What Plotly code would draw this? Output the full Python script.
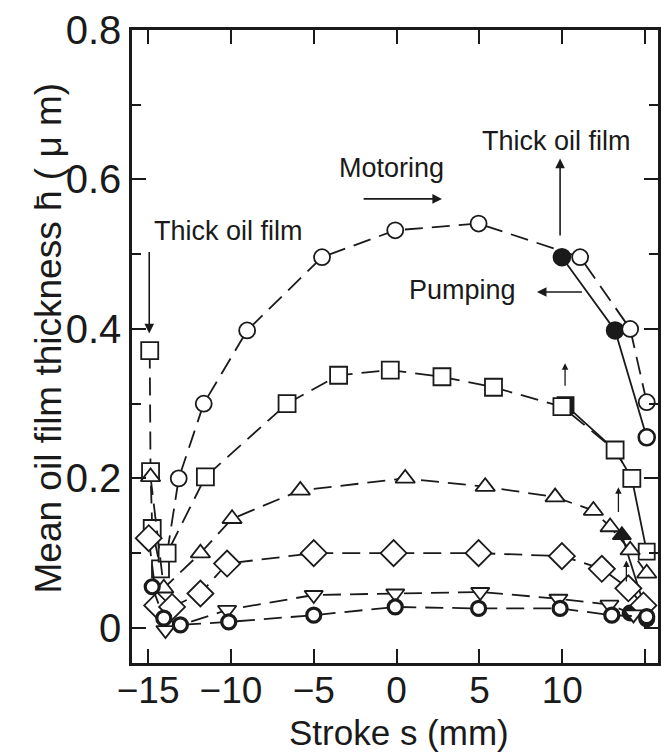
import plotly.graph_objects as go

# ---------------- data ----------------
# Motoring (dashed lines, open markers)
s_circle = [-13.85, -13.15, -11.64, -9.02, -4.5, -0.08, 4.95, 11.08, 14.1, 15.1]
h_circle = [0.10, 0.200, 0.300, 0.398, 0.496, 0.532, 0.541, 0.496, 0.400, 0.302]

s_square = [-14.9, -14.85, -14.75, -14.25, -13.85, -11.54, -6.61, -3.5, -0.38, 2.74, 5.85, 9.98, 13.19, 14.2]
h_square = [0.371, 0.209, 0.133, 0.079, 0.100, 0.202, 0.300, 0.338, 0.345, 0.336, 0.322, 0.296, 0.238, 0.200]

s_tri = [-14.85, -14.05, -11.84, -9.93, -5.81, 0.52, 5.35, 9.57, 11.88, 12.89, 14.1, 15.1]
h_tri = [0.202, 0.053, 0.100, 0.146, 0.184, 0.200, 0.189, 0.175, 0.157, 0.135, 0.104, 0.073]

s_dia = [-14.96, -14.45, -13.55, -11.84, -10.23, -5.0, -0.18, 4.95, 9.98, 12.39, 13.99, 14.9]
h_dia = [0.120, 0.030, 0.028, 0.046, 0.086, 0.100, 0.100, 0.100, 0.096, 0.079, 0.053, 0.030]

s_itri = [-13.95, -10.23, -5.0, -0.08, 5.05, 9.77, 12.85, 14.3]
h_itri = [-0.003, 0.024, 0.044, 0.046, 0.048, 0.039, 0.031, 0.018]

s_bcirc = [-14.75, -14.05, -13.05, -10.13, -5.0, -0.08, 4.95, 9.87, 12.99, 15.1]
h_bcirc = [0.055, 0.013, 0.004, 0.008, 0.017, 0.028, 0.026, 0.026, 0.017, 0.015]

# Pumping (solid lines, filled markers)
s_pcircle = [9.98, 13.19, 15.1]
h_pcircle = [0.496, 0.398, 0.255]
s_psquare = [10.2, 13.19, 14.2, 15.1]
h_psquare = [0.298, 0.238, 0.200, 0.102]
s_ptri = [13.6, 14.9]
h_ptri = [0.124, 0.033]
s_pbcirc = [14.1, 15.1]
h_pbcirc = [0.020, 0.012]

x_ticks = [-15, -10, -5, 0, 5, 10, 15]
x_ticktext = ["\u221215", "\u221210", "\u22125", "0", "5", "10", "15"]
y_ticks = [0, 0.2, 0.4, 0.6, 0.8]
y_ticktext = ["0", "0.2", "0.4", "0.6", "0.8"]

x_title = "Stroke s (mm)"
y_title = "Mean oil film thickness h\u0304 ( \u03bc m)"

# ---------------- figure ----------------
INK = "#1a1a1a"
FONT = "Liberation Sans, Arial, Helvetica, sans-serif"
DASH = "18px,9px"

fig = go.Figure()

def motoring(s, h, symbol, size, lw=1.8, mlw=1.8):
    fig.add_trace(go.Scatter(
        x=s, y=h, mode="lines+markers",
        line=dict(color=INK, width=lw, dash=DASH),
        marker=dict(symbol=symbol, size=size, color="white",
                    line=dict(color=INK, width=mlw)),
        showlegend=False, hoverinfo="x+y"))

def pumping(s, h, symbol, size, fills, mlw=1.8):
    fig.add_trace(go.Scatter(
        x=s, y=h, mode="lines+markers",
        line=dict(color=INK, width=1.8),
        marker=dict(symbol=symbol, size=size, color=fills,
                    line=dict(color=INK, width=mlw)),
        showlegend=False, hoverinfo="x+y"))

pumping(s_pcircle, h_pcircle, "circle", 16, [INK, INK, "white"], mlw=2.6)
pumping(s_psquare, h_psquare, "square", 16, [INK, "white", "white", "white"])
pumping(s_ptri, h_ptri, "triangle-up", 16, [INK, "white"])
pumping(s_pbcirc, h_pbcirc, "circle", 14, [INK, "white"], mlw=3)

motoring(s_circle, h_circle, "circle", 16)
motoring(s_square, h_square, "square", 17)
motoring(s_tri, h_tri, "triangle-up", 17)
motoring(s_dia, h_dia, "diamond", 20)
motoring(s_itri, h_itri, "triangle-down", 16)
motoring(s_bcirc, h_bcirc, "circle", 14, mlw=3.2)

# ---------------- annotations ----------------
def label(x, y, text):
    fig.add_annotation(x=x, y=y, xref="x", yref="y", text=text, showarrow=False,
                       font=dict(size=27, color=INK, family=FONT))

def arrow(x0, y0, x1, y1, w=1.6, size=1.2):
    fig.add_annotation(x=x1, y=y1, ax=x0, ay=y0, xref="x", yref="y",
                       axref="x", ayref="y", text="", showarrow=True,
                       arrowhead=2, arrowsize=size, arrowwidth=w, arrowcolor=INK)

label(-10.15, 0.531, "Thick oil film")
arrow(-14.93, 0.505, -14.93, 0.394)
label(-0.3, 0.615, "Motoring")
arrow(-2.08, 0.574, 2.74, 0.574)
label(9.65, 0.652, "Thick oil film")
arrow(9.87, 0.523, 9.87, 0.628)
label(4.0, 0.452, "Pumping")
arrow(11.28, 0.4495, 8.47, 0.4495)
arrow(10.17, 0.322, 10.17, 0.354, w=1.3, size=1.0)
arrow(13.39, 0.153, 13.39, 0.188, w=1.3, size=1.0)
arrow(13.87, 0.060, 13.87, 0.090, w=1.3, size=1.0)

# axis titles placed as text next to the axes
fig.add_annotation(x=0.5, y=0, xref="paper", yref="paper", text=x_title,
                   showarrow=False, yanchor="middle", xanchor="center",
                   xshift=4, yshift=-69,
                   font=dict(size=35, color=INK, family=FONT))
fig.add_annotation(x=0, y=0.5, xref="paper", yref="paper", text=y_title,
                   showarrow=False, textangle=-90, xanchor="center", yanchor="middle",
                   xshift=-84, yshift=8,
                   font=dict(size=37, color=INK, family=FONT))

fig.update_layout(
    width=661, height=753,
    margin=dict(l=132, r=3, t=30, b=90),
    paper_bgcolor="white", plot_bgcolor="white",
    font=dict(family=FONT, color=INK),
    showlegend=False,
)
fig.update_xaxes(
    range=[-15.97, 15.78], tickvals=x_ticks, ticktext=x_ticktext,
    ticks="inside", ticklen=14, tickwidth=2, tickcolor=INK,
    showline=True, linewidth=2.5, linecolor=INK, mirror="ticks",
    showgrid=False, zeroline=False,
    tickfont=dict(size=37, color=INK, family=FONT),
    ticklabelstandoff=-7,
    automargin=False,
)
fig.update_yaxes(
    range=[-0.047, 0.8], tickvals=y_ticks, ticktext=y_ticktext,
    ticks="inside", ticklen=14, tickwidth=2, tickcolor=INK,
    minor=dict(dtick=0.1, tick0=0, ticks="inside", ticklen=9, tickwidth=2, tickcolor=INK),
    showline=True, linewidth=2.5, linecolor=INK, mirror="ticks",
    showgrid=False, zeroline=False,
    tickfont=dict(size=40, color=INK, family=FONT),
    automargin=False,
)

fig.write_html(
    "out.html",
    config={"displayModeBar": False},
    post_script="document.body.style.margin='0';document.body.style.overflow='hidden';",
)
